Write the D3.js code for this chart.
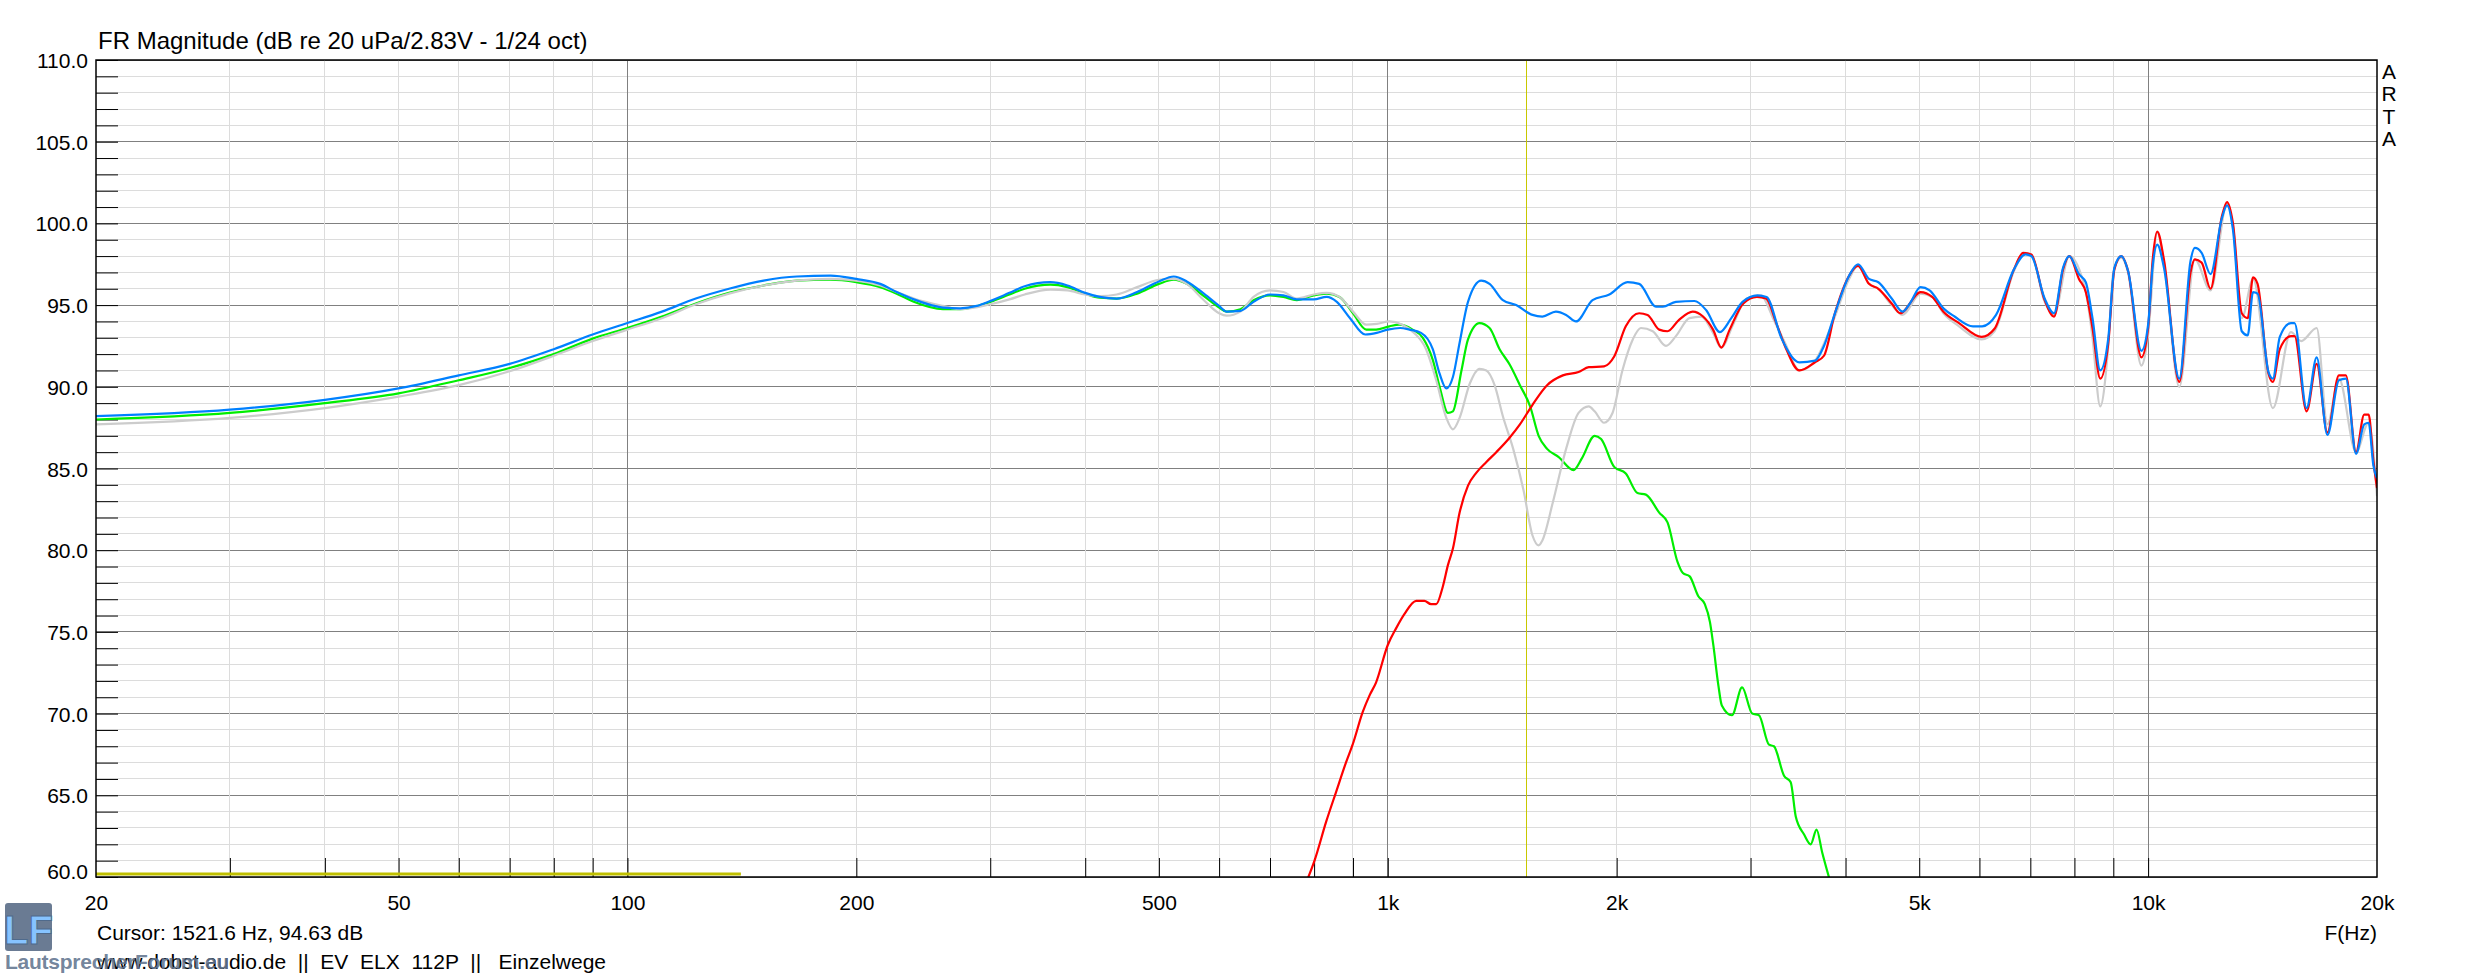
<!DOCTYPE html>
<html>
<head>
<meta charset="utf-8">
<script src="https://cdn.jsdelivr.net/npm/d3@7"></script>
<style>
  body { margin: 0; background: #fff; }
  svg text { font-family: "Liberation Sans", Arial, sans-serif; }
</style>
</head>
<body>
<script>
// [Hz, dB]
const sumBlue = [
  [20, 88.2], [30, 88.6], [40, 89.2], [50, 89.9], [60, 90.7], [70, 91.4], [80, 92.3], [90, 93.2],
  [100, 93.9], [111, 94.6], [123, 95.4], [136, 96.0], [151, 96.5], [167, 96.75], [185, 96.8],
  [200, 96.6], [215, 96.3], [226, 95.8], [238, 95.35], [260, 94.85], [274, 94.8], [288, 94.95],
  [300, 95.25], [318, 95.75], [333, 96.15], [360, 96.4], [379, 96.2], [400, 95.75], [418, 95.5],
  [440, 95.4], [468, 95.8], [500, 96.45], [523, 96.75], [544, 96.45], [573, 95.7], [600, 94.95],
  [614, 94.6], [640, 94.65], [666, 95.2], [700, 95.65], [729, 95.6], [759, 95.35], [799, 95.35],
  [831, 95.5], [857, 95.2], [892, 94.2], [934, 93.2], [967, 93.3], [1000, 93.5], [1038, 93.6],
  [1068, 93.5], [1106, 93.3], [1146, 92.3], [1170, 90.8], [1194, 89.9], [1218, 90.6], [1243, 92.7],
  [1275, 95.2], [1327, 96.5], [1361, 96.3], [1417, 95.3], [1475, 95.0], [1550, 94.4], [1597, 94.3],
  [1664, 94.6], [1716, 94.4], [1768, 94.0], [1859, 95.3], [1956, 95.65], [2067, 96.4], [2141, 96.3],
  [2254, 94.9], [2300, 94.9], [2393, 95.2], [2531, 95.25], [2622, 94.7], [2734, 93.35], [2830, 94.2],
  [2928, 95.2], [3064, 95.6], [3149, 95.5], [3296, 92.95], [3479, 91.5], [3647, 91.6], [3747, 92.5],
  [3873, 94.5], [4043, 96.8], [4154, 97.5], [4294, 96.6], [4418, 96.4], [4600, 95.4], [4755, 94.6],
  [4860, 95.1], [5020, 96.1], [5160, 95.9], [5380, 94.8], [5565, 94.3], [5884, 93.7], [6050, 93.7],
  [6310, 94.4], [6663, 97.2], [6895, 98.1], [7020, 98.0], [7310, 95.4], [7520, 94.5], [7730, 97.3],
  [7875, 98.0], [8110, 96.9], [8280, 96.4], [8450, 94.2], [8650, 91.0], [8860, 92.9], [9030, 97.3],
  [9220, 98.0], [9410, 97.1], [9800, 92.2], [10000, 93.8], [10140, 97.4], [10280, 98.7], [10490, 97.3],
  [10990, 90.5], [11370, 97.7], [11520, 98.5], [11760, 98.2], [12080, 96.9], [12500, 100.3],
  [12700, 101.1], [12930, 99.6], [13280, 93.4], [13520, 93.15], [13740, 95.8], [13930, 95.7],
  [14400, 90.9], [14590, 90.5], [14900, 93.05], [15410, 93.9], [15580, 93.9], [16160, 88.7],
  [16660, 91.8], [17210, 87.05], [17820, 90.4], [18200, 90.5], [18770, 85.9], [19240, 87.7],
  [19500, 87.8], [19780, 85.2], [20000, 84.4]
];

const hornRed = [
  [780, 59.6], [801, 61.0], [830, 63.4], [855, 65.2], [881, 67.0], [899, 68.1], [927, 70.1],
  [946, 71.1], [965, 71.9], [1000, 74.2], [1025, 75.2], [1052, 76.1], [1090, 76.9], [1117, 76.9],
  [1140, 76.7], [1158, 76.7], [1181, 77.75], [1200, 79.1], [1218, 80.1], [1243, 82.3], [1275, 83.95],
  [1308, 84.75], [1348, 85.4], [1389, 86.0], [1447, 86.9], [1492, 87.7], [1550, 88.9], [1620, 90.1],
  [1699, 90.7], [1782, 90.9], [1838, 91.2], [1925, 91.25], [1985, 91.85], [2056, 93.7], [2141, 94.5],
  [2196, 94.4], [2275, 93.5], [2333, 93.4], [2416, 94.1], [2518, 94.6], [2598, 94.3], [2678, 93.5],
  [2746, 92.4], [2816, 93.5], [2935, 95.1], [3059, 95.5], [3144, 95.4], [3243, 93.9], [3329, 92.5],
  [3479, 91.0], [3647, 91.5], [3747, 91.9], [3873, 94.5], [4043, 96.8], [4154, 97.4], [4294, 96.3],
  [4418, 96.0], [4600, 95.1], [4720, 94.5], [5020, 95.8], [5200, 95.5], [5380, 94.6], [5640, 93.9],
  [6040, 93.05], [6280, 93.55], [6663, 97.2], [6850, 98.2], [7020, 98.1], [7310, 95.3], [7520, 94.3],
  [7730, 97.2], [7875, 98.0], [8110, 96.6], [8280, 95.8], [8450, 93.6], [8650, 90.5], [8860, 92.6],
  [9030, 97.2], [9220, 98.0], [9410, 97.1], [9800, 91.8], [10000, 93.6], [10140, 97.8], [10280, 99.5],
  [10490, 97.8], [10990, 90.3], [11370, 97.0], [11520, 97.8], [11760, 97.6], [12080, 96.0],
  [12500, 100.4], [12700, 101.3], [12930, 100.0], [13280, 94.5], [13520, 94.2], [13740, 96.7],
  [13930, 96.3], [14400, 90.8], [14590, 90.3], [14900, 92.3], [15410, 93.1], [15580, 93.1],
  [16160, 88.5], [16660, 91.4], [17210, 87.2], [17820, 90.7], [18200, 90.7], [18770, 86.0],
  [19240, 88.3], [19500, 88.3], [19780, 85.5], [20000, 83.8]
];

const wooferGreen = [
  [20, 88.0], [30, 88.4], [40, 89.0], [50, 89.6], [60, 90.4], [70, 91.15], [80, 92.0], [90, 92.95],
  [100, 93.6], [111, 94.3], [123, 95.1], [136, 95.75], [151, 96.2], [167, 96.5], [185, 96.55],
  [200, 96.4], [215, 96.1], [226, 95.7], [238, 95.2], [260, 94.75], [274, 94.75], [300, 95.2],
  [318, 95.65], [333, 96.0], [360, 96.25], [379, 96.1], [400, 95.7], [418, 95.45], [440, 95.4],
  [468, 95.7], [500, 96.3], [523, 96.55], [544, 96.3], [573, 95.55], [600, 94.85], [614, 94.6],
  [640, 94.75], [666, 95.3], [700, 95.6], [729, 95.5], [759, 95.3], [799, 95.6], [831, 95.7],
  [864, 95.5], [900, 94.5], [937, 93.5], [965, 93.5], [1005, 93.7], [1035, 93.8], [1078, 93.5],
  [1112, 93.0], [1146, 91.65], [1170, 90.0], [1200, 88.4], [1218, 88.5], [1250, 91.0], [1275, 92.9],
  [1320, 93.9], [1361, 93.6], [1403, 92.3], [1447, 91.35], [1492, 90.1], [1539, 88.8], [1579, 87.0],
  [1620, 86.2], [1678, 85.7], [1755, 84.9], [1799, 85.6], [1871, 87.0], [1908, 86.8], [1985, 85.1],
  [2056, 84.7], [2130, 83.5], [2185, 83.4], [2275, 82.3], [2333, 81.7], [2404, 79.3], [2444, 78.6],
  [2495, 78.4], [2560, 77.2], [2612, 76.7], [2653, 75.6], [2680, 74.2], [2722, 71.7], [2750, 70.5],
  [2836, 69.9], [2924, 71.6], [3015, 70.0], [3077, 69.9], [3172, 68.1], [3220, 68.0], [3320, 66.2],
  [3388, 65.8], [3440, 63.7], [3528, 62.6], [3599, 62.0], [3664, 62.9], [3727, 61.5], [3830, 59.5]
];

const sumGray = [
  [20, 87.7], [30, 88.1], [40, 88.7], [50, 89.4], [60, 90.1], [70, 90.95], [80, 91.9], [90, 92.8],
  [100, 93.5], [111, 94.2], [123, 95.05], [136, 95.7], [151, 96.2], [167, 96.5], [185, 96.6],
  [200, 96.5], [215, 96.2], [226, 95.8], [238, 95.4], [260, 94.95], [274, 94.75], [300, 95.05],
  [318, 95.35], [333, 95.65], [360, 95.95], [379, 95.9], [400, 95.65], [418, 95.55], [440, 95.65],
  [468, 96.1], [500, 96.55], [523, 96.6], [544, 96.3], [573, 95.3], [600, 94.5], [614, 94.35],
  [640, 94.6], [666, 95.5], [700, 95.9], [729, 95.8], [759, 95.4], [799, 95.65], [831, 95.75],
  [864, 95.5], [900, 94.6], [937, 93.8], [967, 93.85], [1005, 94.0], [1045, 93.8], [1083, 93.3],
  [1123, 92.3], [1158, 90.4], [1194, 88.1], [1218, 87.4], [1243, 88.1], [1282, 90.2], [1320, 91.1],
  [1348, 91.0], [1382, 90.1], [1417, 88.2], [1462, 86.2], [1508, 83.7], [1550, 80.9], [1579, 80.3],
  [1597, 80.6], [1648, 82.9], [1716, 86.2], [1782, 88.4], [1838, 88.8], [1871, 88.5], [1925, 87.8],
  [1975, 88.4], [2035, 91.0], [2100, 92.9], [2152, 93.6], [2231, 93.4], [2322, 92.5], [2393, 93.1],
  [2493, 94.2], [2585, 94.3], [2678, 93.3], [2746, 92.4], [2845, 93.8], [2965, 95.4], [3092, 95.6],
  [3226, 94.0], [3329, 92.7], [3479, 91.0], [3647, 91.6], [3873, 94.3], [4043, 96.6], [4154, 97.4],
  [4294, 96.3], [4418, 96.0], [4600, 95.0], [4755, 94.4], [5020, 95.7], [5200, 95.5], [5380, 94.5],
  [5640, 93.7], [6040, 92.9], [6280, 93.4], [6663, 97.1], [6895, 98.2], [7020, 98.1], [7310, 95.2],
  [7520, 94.4], [7875, 98.0], [8280, 95.8], [8450, 93.0], [8650, 88.8], [8860, 92.4], [9000, 97.0],
  [9220, 97.9], [9410, 97.0], [9800, 91.3], [10000, 93.2], [10280, 99.45], [10490, 97.6],
  [10990, 90.0], [11520, 97.8], [12080, 95.9], [12700, 101.2], [12930, 99.8], [13280, 94.2],
  [13740, 96.6], [14590, 88.7], [15410, 93.35], [15900, 92.8], [16660, 93.6], [17210, 87.7],
  [17820, 90.5], [18770, 86.0], [19500, 87.8], [20000, 83.3]
];

const dbLabels = [60, 65, 70, 75, 80, 85, 90, 95, 100, 105, 110];
const freqLabels = [20, 50, 100, 200, 500, 1000, 2000, 5000, 10000, 20000];
const freqLabelText = ['20', '50', '100', '200', '500', '1k', '2k', '5k', '10k', '20k'];
const cursorHz = 1521.6;
const markerEndHz = 141;

window.addEventListener('load', () => {

    let width = 2473;
    let height = 978;
    let left = 96, right = 2377, top = 60, bottom = 877;

    let x = d3.scaleLog().domain([20, 20000]).range([left, right]);
    let y = d3.scaleLinear().domain([60, 110]).range([bottom, top]);

    let svg = d3.select('body')
        .append('svg')
        .attr('width', width)
        .attr('height', height);

    svg.append('defs').append('clipPath')
        .attr('id', 'plot')
        .append('rect')
        .attr('x', left).attr('y', top)
        .attr('width', right - left).attr('height', bottom - top);

    // grid
    let grid = svg.append('g').attr('shape-rendering', 'crispEdges');
    let fTicks = x.ticks();
    let dbTicks = y.ticks(50);
    let isDecade = f => Math.abs(Math.log10(f) % 1) < 1e-9;

    grid.selectAll('.hgrid')
        .data(dbTicks)
        .enter()
            .append('line')
            .attr('x1', left).attr('x2', right)
            .attr('y1', d => y(d)).attr('y2', d => y(d))
            .attr('stroke', d => d % 5 === 0 ? '#808080' : '#dcdcdc');

    grid.selectAll('.vgrid')
        .data(fTicks.filter(f => f > 20 && f < 20000))
        .enter()
            .append('line')
            .attr('x1', d => x(d)).attr('x2', d => x(d))
            .attr('y1', top).attr('y2', bottom)
            .attr('stroke', d => isDecade(d) ? '#808080' : '#dcdcdc');

    // inward ticks
    svg.append('g')
        .attr('transform', `translate(${left},0)`)
        .call(d3.axisRight(y).tickValues(dbTicks).tickSize(22).tickFormat(''))
        .call(g => g.select('.domain').remove())
        .selectAll('line').attr('stroke', '#000');

    svg.append('g')
        .attr('transform', `translate(0,${bottom})`)
        .call(d3.axisTop(x).tickValues(fTicks.filter(f => f > 20 && f < 20000)).tickSize(19).tickFormat(''))
        .call(g => g.select('.domain').remove())
        .selectAll('line').attr('stroke', '#000');

    // labels
    let yAxis = svg.append('g')
        .attr('transform', `translate(${left},0)`)
        .call(d3.axisLeft(y).tickValues(dbLabels).tickSize(0).tickPadding(8).tickFormat(d3.format('.1f')));
    yAxis.select('.domain').remove();
    yAxis.selectAll('text')
        .attr('font-size', 21).attr('fill', '#000')
        .attr('dy', d => d === 60 ? '0.05em' : '0.36em');

    let xAxis = svg.append('g')
        .attr('transform', `translate(0,${bottom})`)
        .call(d3.axisBottom(x).tickValues(freqLabels).tickSize(0).tickPadding(18)
            .tickFormat((d, i) => freqLabelText[i]));
    xAxis.select('.domain').remove();
    xAxis.selectAll('text').attr('font-size', 21).attr('fill', '#000');

    // markers
    svg.append('line')
        .attr('x1', x(cursorHz)).attr('x2', x(cursorHz))
        .attr('y1', top).attr('y2', bottom)
        .attr('stroke', '#c8c800').attr('stroke-width', 1.2)
        .attr('shape-rendering', 'crispEdges');

    svg.append('line')
        .attr('x1', left).attr('x2', x(markerEndHz))
        .attr('y1', bottom - 3).attr('y2', bottom - 3)
        .attr('stroke', '#c0c000').attr('stroke-width', 3);

    // curves
    let line = d3.line()
        .x(d => x(d[0]))
        .y(d => y(d[1]))
        .curve(d3.curveMonotoneX);

    let curves = svg.append('g').attr('clip-path', 'url(#plot)');
    [[wooferGreen, '#00ee00'], [sumGray, '#cccccc'], [hornRed, '#ff0000'], [sumBlue, '#0080ff']]
        .forEach(([data, color]) => {
            curves.append('path')
                .attr('d', line(data))
                .attr('fill', 'none')
                .attr('stroke', color)
                .attr('stroke-width', 2.2)
                .attr('stroke-linejoin', 'round');
        });

    // frame
    svg.append('rect')
        .attr('x', left).attr('y', top)
        .attr('width', right - left).attr('height', bottom - top)
        .attr('fill', 'none').attr('stroke', '#000').attr('stroke-width', 1.5);

    // texts
    svg.append('text')
        .attr('x', 98).attr('y', 49)
        .attr('font-size', 24)
        .text('FR Magnitude (dB re 20 uPa/2.83V - 1/24 oct)');

    svg.selectAll('.arta')
        .data(['A', 'R', 'T', 'A'])
        .enter()
            .append('text')
            .attr('x', 2389).attr('y', (d, i) => 79 + i * 22.3)
            .attr('text-anchor', 'middle')
            .attr('font-size', 21)
            .text(d => d);

    svg.append('text')
        .attr('x', right).attr('y', 940)
        .attr('text-anchor', 'end')
        .attr('font-size', 21)
        .text('F(Hz)');

    svg.append('text')
        .attr('x', 97).attr('y', 940)
        .attr('font-size', 21)
        .text('Cursor: 1521.6 Hz, 94.63 dB');

    svg.append('text')
        .attr('x', 97).attr('y', 969)
        .attr('font-size', 21)
        .style('white-space', 'pre')
        .text('www.dobst-audio.de  ||  EV  ELX  112P  ||   Einzelwege');

    // forum watermark over the bottom-left corner
    let logo = svg.append('g');
    logo.append('rect')
        .attr('x', 5).attr('y', 903).attr('width', 47).attr('height', 48).attr('rx', 3)
        .attr('fill', '#6a7b93');
    logo.append('text')
        .attr('x', 28.5).attr('y', 944)
        .attr('text-anchor', 'middle')
        .attr('font-size', 40).attr('font-weight', 'bold')
        .attr('fill', '#86c3ff')
        .attr('stroke', '#4f6a8c').attr('stroke-width', 1)
        .text('LF');
    logo.append('text')
        .attr('x', 5).attr('y', 969)
        .attr('font-size', 21).attr('font-weight', 'bold')
        .attr('fill', '#62758f').attr('fill-opacity', 0.9)
        .attr('font-family', '"DejaVu Sans", sans-serif')
        .attr('textLength', 224)
        .text('LautsprecherForum.eu');
})
</script>
</body>
</html>
